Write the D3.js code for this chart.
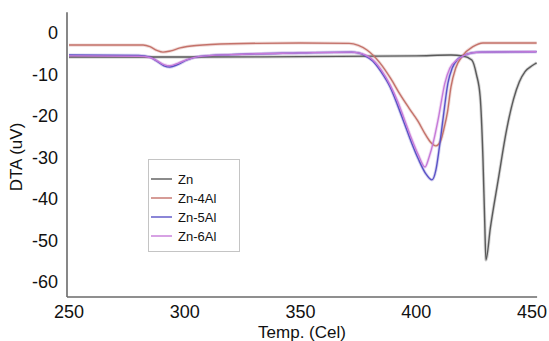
<!DOCTYPE html>
<html>
<head>
<meta charset="utf-8">
<script src="https://cdn.jsdelivr.net/npm/d3@7"></script>
<style>
  html, body { margin: 0; padding: 0; background: #fff; }
  svg { display: block; font-family: "Liberation Sans", Arial, sans-serif; }
</style>
</head>
<body>
<div id="wrapper"></div>
<script>
// Series names and readings: [temperature, DTA]
const seriesNames = ["Zn", "Zn-4Al", "Zn-5Al", "Zn-6Al"]
const seriesColors = ["#5a5a5a", "#c4726a", "#5a52c6", "#c67ad8"]

const znData = [
    [250, -5.8], [300, -5.8], [350, -5.7], [400, -5.5], [415, -5.3], [420, -5.5],
    [424, -6.5], [426, -10], [427.6, -15.3], [428.8, -30], [429.6, -46], [430.1, -54.7],
    [432, -47], [435.4, -35.4], [439, -23.4], [442, -16], [444.5, -11.8], [447, -9.3],
    [450, -7.9], [452, -7.2],
]
const zn4AlData = [
    [250, -2.9], [282, -2.9], [285, -3.3], [288, -4.2], [290.6, -4.6], [294, -4.3],
    [298, -3.6], [305, -3.0], [320, -2.6], [350, -2.4], [371, -2.5], [375, -3.0],
    [378.7, -4.1], [384.3, -7.2], [389, -11], [393, -14.8], [397, -18.2], [400.8, -21.3],
    [404, -24.5], [406.5, -26.5], [408.5, -27.2], [410.5, -26], [412, -23], [413.5, -19],
    [415, -13], [417, -8.5], [420, -5.5], [424.5, -3.3], [428.8, -2.4], [452, -2.4],
]
const zn5AlData = [
    [250, -5.3], [280, -5.4], [285, -5.8], [288, -6.8], [291, -7.9], [293.6, -8.2],
    [297, -7.6], [301, -6.5], [306, -5.7], [320, -5.2], [350, -4.8], [372, -4.6],
    [375, -4.8], [378, -5.5], [381.3, -6.8], [385, -9.5], [388.7, -13], [392, -17.5],
    [395, -22], [398, -26.5], [401, -30.5], [404, -33.8], [406.8, -35.4], [408.5, -33],
    [410, -27.5], [411.5, -21], [413.7, -12], [415.5, -8.5], [417.6, -6.5], [420, -5.6],
    [424, -4.8], [428, -4.6], [452, -4.5],
]
const zn6AlData = [
    [250, -5.5], [280, -5.6], [285, -5.9], [288, -6.7], [291, -7.6], [293.5, -7.9],
    [297, -7.3], [301, -6.4], [306, -5.7], [320, -5.2], [350, -4.8], [372, -4.6],
    [375, -4.8], [378, -5.3], [381.3, -6.5], [385, -9], [388.7, -12.5], [392, -16.5],
    [395, -21], [398, -25.5], [401, -29.5], [403.8, -32.3], [405.5, -30], [407.5, -26],
    [409.4, -21], [412.4, -12], [414.5, -8.5], [417.6, -6.5], [420, -5.6], [424, -4.8],
    [428, -4.6], [452, -4.5],
]
const seriesData = [znData, zn4AlData, zn5AlData, zn6AlData]

const xTicks = [250, 300, 350, 400, 450]
const yTicks = [0, -10, -20, -30, -40, -50, -60]

const dimensions = { width: 549, height: 341 }

const wrapper = d3.select("#wrapper")
    .append("svg")
    .attr("width", dimensions.width)
    .attr("height", dimensions.height)

const xScale = d3.scaleLinear()
    .domain([250, 450])
    .range([69, 532])
const yScale = d3.scaleLinear()
    .domain([0, -60])
    .range([33, 282])

// axes (plain lines, no tick marks)
const axisColor = "#6a6a6a"
wrapper.append("line")
    .attr("x1", 67).attr("x2", 67)
    .attr("y1", yScale(5)).attr("y2", yScale(-63.6))
    .attr("stroke", axisColor).attr("stroke-width", 1.6)
wrapper.append("line")
    .attr("x1", 67).attr("x2", xScale(452.2))
    .attr("y1", yScale(-63.6)).attr("y2", yScale(-63.6))
    .attr("stroke", axisColor).attr("stroke-width", 1.6)

wrapper.selectAll(".ytick")
    .data(yTicks)
    .join("text")
    .attr("class", "ytick")
    .attr("x", 58)
    .attr("y", d => yScale(d))
    .attr("dy", "0.35em")
    .attr("text-anchor", "end")
    .attr("font-size", 18)
    .attr("fill", "#111")
    .text(d => d)

wrapper.selectAll(".xtick")
    .data(xTicks)
    .join("text")
    .attr("class", "xtick")
    .attr("x", d => xScale(d))
    .attr("y", 318)
    .attr("text-anchor", "middle")
    .attr("font-size", 18)
    .attr("fill", "#111")
    .text(d => d)

wrapper.append("text")
    .attr("transform", "translate(22,157) rotate(-90)")
    .attr("text-anchor", "middle")
    .attr("font-size", 17)
    .attr("fill", "#111")
    .text("DTA (uV)")

wrapper.append("text")
    .attr("x", 302)
    .attr("y", 338)
    .attr("text-anchor", "middle")
    .attr("font-size", 17)
    .attr("fill", "#111")
    .text("Temp. (Cel)")

const lineGen = d3.line()
    .x(d => xScale(d[0]))
    .y(d => yScale(d[1]))
    .curve(d3.curveMonotoneX)

// soft halo under each line, then the line itself
wrapper.selectAll(".halo")
    .data(seriesData)
    .join("path")
    .attr("class", "halo")
    .attr("d", lineGen)
    .attr("fill", "none")
    .attr("stroke", (d, i) => seriesColors[i])
    .attr("stroke-opacity", 0.25)
    .attr("stroke-width", 3.2)

wrapper.selectAll(".series")
    .data(seriesData)
    .join("path")
    .attr("class", "series")
    .attr("d", lineGen)
    .attr("fill", "none")
    .attr("stroke", (d, i) => seriesColors[i])
    .attr("stroke-width", 1.4)

// legend
const legend = wrapper.append("g")
wrapper.insert("rect", "path")
    .attr("x", 148.5).attr("y", 159.5)
    .attr("width", 91).attr("height", 92)
    .attr("fill", "#fff")
    .attr("stroke", "#c4c4c4")
    .attr("stroke-width", 1)

const items = legend.selectAll("g")
    .data(seriesNames)
    .join("g")
    .attr("transform", (d, i) => `translate(0, ${179 + i * 19})`)
items.append("line")
    .attr("x1", 151).attr("x2", 172)
    .attr("stroke", (d, i) => seriesColors[i])
    .attr("stroke-width", 1.4)
items.append("text")
    .attr("x", 178)
    .attr("dy", "0.35em")
    .attr("font-size", 13)
    .attr("fill", "#111")
    .text(d => d)
</script>
</body>
</html>
